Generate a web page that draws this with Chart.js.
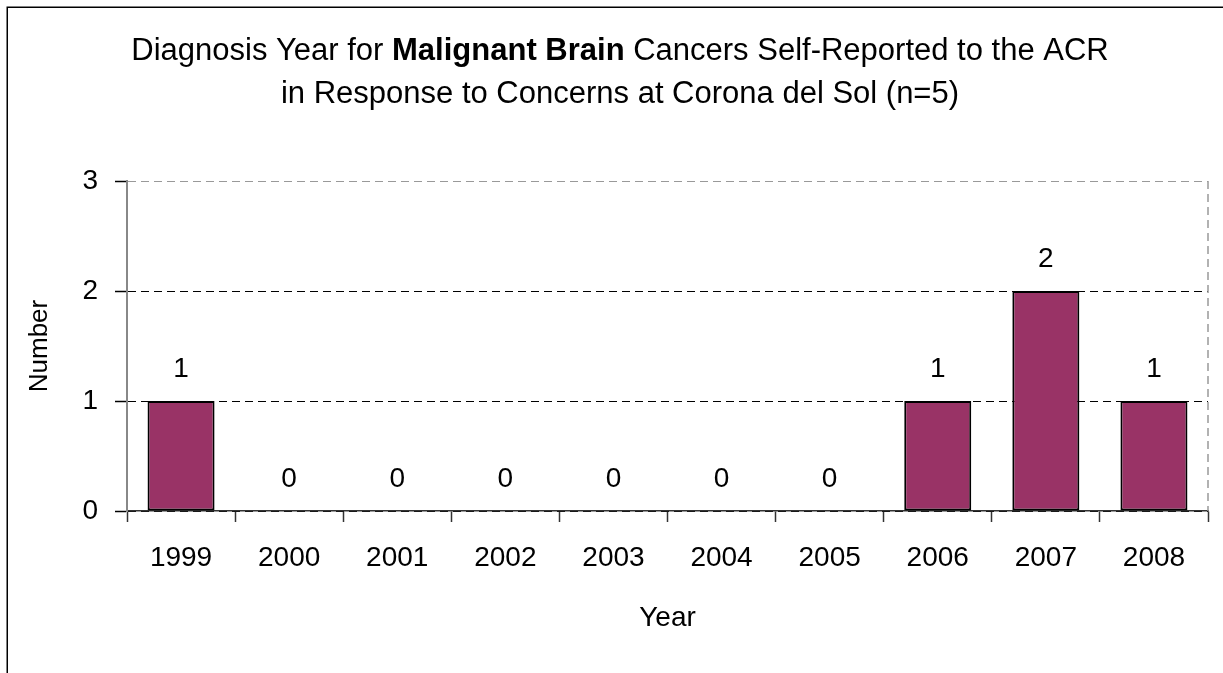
<!DOCTYPE html>
<html>
<head>
<meta charset="utf-8">
<script src="https://cdn.jsdelivr.net/npm/chart.js@4"></script>
<style>
  body { margin: 0; background: #fff; }
  canvas { display: block; }
</style>
</head>
<body>
<canvas id="grafico" width="1223" height="673"></canvas>
<script>
// data
const years = ['1999', '2000', '2001', '2002', '2003', '2004', '2005', '2006', '2007', '2008'];
const counts = [1, 0, 0, 0, 0, 0, 0, 1, 2, 1];
const yMin = 0;
const yMax = 3;
const yStep = 1;

const titleLine1 = [
    { text: 'Diagnosis Year for ', bold: false },
    { text: 'Malignant Brain', bold: true },
    { text: ' Cancers Self-Reported to the ACR', bold: false }
];
const titleLine2 = 'in Response to Concerns at Corona del Sol (n=5)';

const FONT = '"Liberation Sans", Arial, sans-serif';

// outer frame + two-line title with the bold part
const marco = {
    id: 'marco',
    beforeDraw(chart) {
        const c = chart.ctx;
        c.save();
        c.fillStyle = '#fff';
        c.fillRect(0, 0, chart.width, chart.height);
        c.strokeStyle = '#000';
        c.lineWidth = 1.5;
        c.beginPath();
        c.moveTo(7.25, chart.height);
        c.lineTo(7.25, 7.25);
        c.lineTo(chart.width, 7.25);
        c.stroke();

        const size = 31;
        const cx = 620;
        c.fillStyle = '#000';
        c.textBaseline = 'alphabetic';
        c.textAlign = 'left';
        let total = 0;
        titleLine1.forEach(p => {
            c.font = (p.bold ? 'bold ' : '') + size + 'px ' + FONT;
            total += c.measureText(p.text).width;
        });
        let x = cx - total / 2;
        titleLine1.forEach(p => {
            c.font = (p.bold ? 'bold ' : '') + size + 'px ' + FONT;
            c.fillText(p.text, x, 60);
            x += c.measureText(p.text).width;
        });
        c.font = size + 'px ' + FONT;
        c.textAlign = 'center';
        c.fillText(titleLine2, cx, 103);
        c.restore();
    },
    beforeDatasetsDraw(chart) {
        // grey dashed right edge of the plot area
        const a = chart.chartArea;
        const c = chart.ctx;
        c.save();
        c.strokeStyle = '#999';
        c.lineWidth = 1.5;
        c.setLineDash([8, 5]);
        c.beginPath();
        c.moveTo(a.right, a.top);
        c.lineTo(a.right, a.bottom);
        c.stroke();
        c.restore();
    }
};

// value labels above the bars
const etiquetas = {
    id: 'etiquetas',
    afterDatasetsDraw(chart) {
        const c = chart.ctx;
        const meta = chart.getDatasetMeta(0);
        c.save();
        c.font = '28px ' + FONT;
        c.fillStyle = '#000';
        c.textAlign = 'center';
        c.textBaseline = 'alphabetic';
        meta.data.forEach((bar, i) => {
            c.fillText(String(counts[i]), bar.x, bar.y - 24);
        });
        c.restore();
    }
};

const ctx = document.getElementById('grafico').getContext('2d');

const grafico = new Chart(ctx, {
    type: 'bar',
    data: {
        labels: years,
        datasets: [{
            data: counts,
            backgroundColor: '#993366',
            borderColor: '#000',
            borderWidth: 2,
            borderSkipped: false,
            barPercentage: 0.62,
            categoryPercentage: 1
        }]
    },
    options: {
        responsive: false,
        animation: false,
        events: [],
        layout: { padding: { top: 181, right: 15, bottom: 0, left: 0 } },
        plugins: {
            legend: { display: false },
            tooltip: { enabled: false },
            title: { display: false }
        },
        scales: {
            x: {
                afterFit: s => { s.height = 162; },
                grid: {
                    offset: true,
                    drawOnChartArea: false,
                    drawTicks: true,
                    tickLength: 11,
                    tickColor: '#333',
                    tickWidth: 1.5
                },
                border: { display: true, color: '#333', width: 1.5 },
                ticks: {
                    color: '#000',
                    padding: 19,
                    maxRotation: 0,
                    font: { family: FONT, size: 28 }
                },
                title: {
                    display: true,
                    text: 'Year',
                    color: '#000',
                    font: { family: FONT, size: 28 },
                    padding: { top: 0, bottom: 38 }
                }
            },
            y: {
                min: yMin,
                max: yMax,
                afterFit: s => { s.width = 127; },
                grid: {
                    color: c => c.tick && c.tick.value === yMax ? '#999' : '#000',
                    lineWidth: 1,
                    drawTicks: true,
                    tickLength: 12,
                    tickColor: '#000',
                    tickWidth: 1.5
                },
                border: { display: true, color: '#888', width: 2, dash: [8, 5] },
                ticks: {
                    stepSize: yStep,
                    color: '#000',
                    padding: 17,
                    font: { family: FONT, size: 28 }
                },
                title: {
                    display: true,
                    text: 'Number',
                    color: '#000',
                    font: { family: FONT, size: 26 },
                    padding: { top: 24, bottom: 0 }
                }
            }
        }
    },
    plugins: [marco, etiquetas]
});
</script>
</body>
</html>
